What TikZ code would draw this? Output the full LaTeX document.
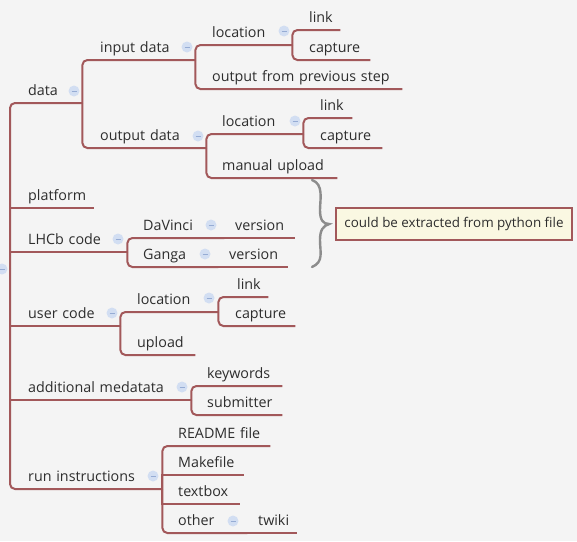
\documentclass[tikz,border=0pt]{standalone}
\usepackage{fontspec}
\setmainfont{Open Sans}
\definecolor{bg}{RGB}{244,244,244}
\definecolor{branchc}{RGB}{162,88,90}
\definecolor{txt}{RGB}{45,45,45}
\definecolor{iconfill}{RGB}{210,222,242}
\definecolor{iconmark}{RGB}{150,172,212}
\definecolor{notefill}{RGB}{250,248,226}
\definecolor{bracec}{RGB}{140,140,140}
\begin{document}
\begin{tikzpicture}[x=1pt,y=-1pt,
  topic/.style={anchor=south west, inner xsep=0pt, inner ysep=3.5pt,
    text height=10.5pt, text depth=3.5pt, align=left,
    font=\fontsize{14.3}{16}\selectfont, text=txt, text width=#1},
  branch/.style={draw=branchc, line width=2pt, rounded corners=5pt},
  midbranch/.style={draw=branchc, line width=2pt},
  icon/.style={circle, fill=iconfill, minimum size=11pt, inner sep=0pt,
    path picture={\draw[iconmark, line width=1pt]
      ([xshift=-2.5pt]path picture bounding box.center) --
      ([xshift=2.5pt]path picture bounding box.center);}},
  note/.style={draw=branchc, line width=1.8pt, fill=notefill,
    font=\fontsize{13.4}{15}\selectfont, text=txt,
    minimum width=236pt, minimum height=32pt, inner sep=0pt},
  bracestyle/.style={draw=bracec, line width=2.4pt, line cap=round}]

\fill[bg] (0,0) rectangle (577,541);
\useasboundingbox (0,0) rectangle (577,541);

% root
\coordinate (root) at (10,268);

% level 1
\node[topic=54pt]  (data)     at (28,103) {data};
\node[topic=66pt]  (platform) at (28,208) {platform};
\node[topic=99pt]  (lhcb)     at (28,252) {LHCb code};
\node[topic=92pt]  (usercode) at (28,326) {user code};
\node[topic=163pt] (addmeta)  at (28,400) {additional medatata};
\node[topic=134pt] (runinstr) at (28,489) {run instructions};

% data subtree
\node[topic=95pt]  (inputdata)  at (100,60)  {input data};
\node[topic=106pt] (outputdata) at (100,148) {output data};
\node[topic=80pt]  (loca)    at (212,45) {location};
\node[topic=190pt] (outprev) at (212,89) {output from previous step};
\node[topic=31pt]  (linka)   at (309,30) {link};
\node[topic=61pt]  (capta)   at (309,60) {capture};
\node[topic=81pt]  (locb)    at (222,134) {location};
\node[topic=115pt] (manual)  at (222,178) {manual upload};
\node[topic=32pt]  (linkb)   at (320,118) {link};
\node[topic=62pt]  (captb)   at (320,148) {capture};

% LHCb subtree
\node[topic=81pt] (davinci)  at (143,238) {DaVinci};
\node[topic=60pt] (versiona) at (235,238) {version};
\node[topic=75pt] (ganga)    at (143,267) {Ganga};
\node[topic=59pt] (versionb) at (229,267) {version};

% user code subtree
\node[topic=81pt] (locc)   at (137,312) {location};
\node[topic=58pt] (upload) at (137,355) {upload};
\node[topic=31pt] (linkc)  at (237,297) {link};
\node[topic=60pt] (captc)  at (235,326) {capture};

% additional metadata subtree
\node[topic=75pt] (keywords)  at (207,386) {keywords};
\node[topic=75pt] (submitter) at (207,415) {submitter};

% run instructions subtree
\node[topic=92pt] (readme)   at (178,446) {README file};
\node[topic=66pt] (makefile) at (178,475) {Makefile};
\node[topic=62pt] (textbox)  at (178,504) {textbox};
\node[topic=69pt] (other)    at (178,533) {other};
\node[topic=39pt] (twiki)    at (258,533) {twiki};

% connectors
\draw[branch] (root) |- (data.south east);
\draw[midbranch] (root) |- (platform.south east);
\draw[midbranch] (root) |- (lhcb.south east);
\draw[midbranch] (root) |- (usercode.south east);
\draw[midbranch] (root) |- (addmeta.south east);
\draw[branch] (root) |- (runinstr.south east);

\draw[branch] (data.south east) |- (inputdata.south east);
\draw[branch] (data.south east) |- (outputdata.south east);
\draw[branch] (inputdata.south east) |- (loca.south east);
\draw[branch] (inputdata.south east) |- (outprev.south east);
\draw[branch] (loca.south east) |- (linka.south east);
\draw[branch] (loca.south east) |- (capta.south east);
\draw[branch] (outputdata.south east) |- (locb.south east);
\draw[branch] (outputdata.south east) |- (manual.south east);
\draw[branch] (locb.south east) |- (linkb.south east);
\draw[branch] (locb.south east) |- (captb.south east);

\draw[branch] (lhcb.south east) |- (davinci.south east);
\draw[branch] (lhcb.south east) |- (ganga.south east);
\draw[midbranch] (davinci.south east) -- (versiona.south east);
\draw[midbranch] (ganga.south east) -- (versionb.south east);

\draw[branch] (usercode.south east) |- (locc.south east);
\draw[branch] (usercode.south east) |- (upload.south east);
\draw[branch] (locc.south east) |- (linkc.south east);
\draw[branch] (locc.south east) |- (captc.south east);

\draw[branch] (addmeta.south east) |- (keywords.south east);
\draw[branch] (addmeta.south east) |- (submitter.south east);

\draw[branch] (runinstr.south east) |- (readme.south east);
\draw[midbranch] (runinstr.south east) |- (makefile.south east);
\draw[midbranch] (runinstr.south east) |- (textbox.south east);
\draw[branch] (runinstr.south east) |- (other.south east);
\draw[midbranch] (other.south east) -- (twiki.south east);

% collapse icons
\node[icon] (rooticon)       at (2,269) {};
\node[icon] (dataicon)       at (74,91) {};
\node[icon] (inputdataicon)  at (187,47) {};
\node[icon] (locaicon)       at (284,31) {};
\node[icon] (outputdataicon) at (198,136) {};
\node[icon] (locbicon)       at (295,121) {};
\node[icon] (lhcbicon)       at (118,239) {};
\node[icon] (davinciicon)    at (211,225) {};
\node[icon] (gangaicon)      at (205,254) {};
\node[icon] (usercodeicon)   at (112,313) {};
\node[icon] (loccicon)       at (209,298) {};
\node[icon] (addmetaicon)    at (182,387) {};
\node[icon] (runinstricon)   at (153,476) {};
\node[icon] (othericon)      at (233,521) {};

% summary brace and note
\node[note] (note) at (454,224) {could be extracted from python file};
\coordinate (bracetip) at ([xshift=-6pt]note.west);
\draw[bracestyle] (312,180) .. controls (324,184) and (320,200) .. (320,210)
  .. controls (320,220) and (323,224) .. (bracetip)
  .. controls (323,226) and (320,230) .. (320,240)
  .. controls (320,252) and (324,262) .. (312,267);
\end{tikzpicture}
\end{document}
